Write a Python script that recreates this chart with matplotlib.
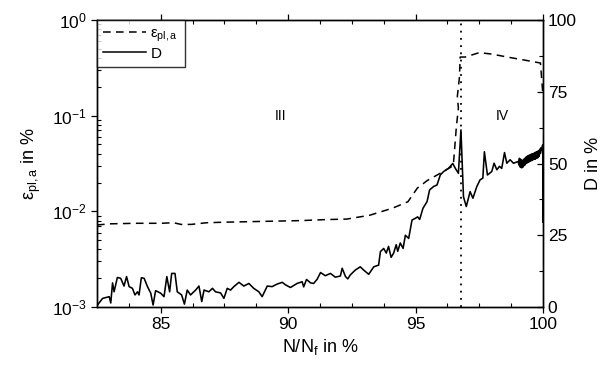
import matplotlib
matplotlib.use("Agg")
import matplotlib.pyplot as plt
from matplotlib.ticker import MultipleLocator, FixedLocator, LogLocator, NullFormatter
from matplotlib.lines import Line2D

plt.rcParams['font.family'] = ['Liberation Sans', 'DejaVu Sans']
plt.rcParams['mathtext.fontset'] = 'custom'
plt.rcParams['mathtext.rm'] = 'Liberation Sans'
plt.rcParams['mathtext.it'] = 'Liberation Sans:italic'

# ---- data ----
eps_x = [82.5, 83.0, 84.0, 85.0, 85.5, 85.8, 86.2, 86.8, 87.5, 88.5, 89.5, 90.5, 91.5,
         92.3, 93.2, 94.1, 94.7, 95.07, 95.46, 95.97, 96.48, 96.6, 96.68, 96.64, 96.72,
         96.75, 96.95, 97.5, 98.0, 98.6, 99.3, 99.9, 100.0]
eps_y = [7.2e-3, 7.4e-3, 7.5e-3, 7.5e-3, 7.6e-3, 7.3e-3, 7.3e-3, 7.6e-3, 7.7e-3, 7.8e-3,
         7.9e-3, 8.0e-3, 8.2e-3, 8.3e-3, 9.1e-3, 1.08e-2, 1.26e-2, 1.75e-2, 2.1e-2, 2.5e-2,
         3.0e-2, 7.6e-2, 0.12, 0.16, 0.25, 0.41, 0.41, 0.456, 0.44, 0.41, 0.38, 0.355, 0.16]

d_x = [82.52, 82.72, 82.98, 83.04, 83.11, 83.17, 83.30, 83.43, 83.56, 83.66, 83.76, 83.89,
       83.99, 84.09, 84.15, 84.24, 84.35, 84.48, 84.61, 84.70, 84.80, 85.00, 85.13, 85.24,
       85.35, 85.43, 85.56, 85.65, 85.82, 85.93, 86.04, 86.17, 86.37, 86.50, 86.61, 86.70,
       86.89, 87.03, 87.15, 87.35, 87.48, 87.61, 87.74, 87.87, 88.07, 88.26, 88.46, 88.65,
       88.85, 88.98, 89.18, 89.37, 89.57, 89.77, 89.90, 90.09, 90.35, 90.55, 90.61, 90.72,
       90.88, 91.00, 91.14, 91.27, 91.46, 91.66, 91.85, 92.05, 92.12, 92.25, 92.34, 92.44,
       92.64, 92.83, 92.96, 93.16, 93.36, 93.55, 93.62, 93.75, 93.85, 93.94, 94.04, 94.14,
       94.24, 94.30, 94.40, 94.51, 94.60, 94.73, 94.86, 94.99, 95.08, 95.16, 95.29, 95.45,
       95.55, 95.71, 95.84, 95.97, 96.10, 96.29, 96.46, 96.56, 96.68, 96.78, 96.88, 96.99,
       97.14, 97.25, 97.40, 97.53, 97.64, 97.70, 97.82, 97.99, 98.08, 98.19, 98.29, 98.38,
       98.49, 98.58, 98.71, 98.84, 99.03,
       99.050, 99.075, 99.100, 99.125, 99.150, 99.175, 99.200, 99.225, 99.250, 99.275,
       99.300, 99.325, 99.350, 99.375, 99.400, 99.425, 99.450, 99.475, 99.500, 99.525,
       99.550, 99.575, 99.600, 99.625, 99.650, 99.675, 99.700, 99.725, 99.750, 99.775,
       99.800, 99.825, 99.850, 99.875, 99.900, 99.925, 99.950,
       99.97, 99.99, 100.0, 100.0, 100.0, 100.0]
d_y = [0.7, 3.0, 3.6, 1.4, 8.4, 5.3, 10.3, 10.0, 7.3, 10.6, 7.1, 6.5,
       4.2, 5.3, 4.2, 10.2, 10.0, 7.1, 4.8, 0.7, 5.7, 4.8, 3.6, 10.6,
       5.3, 11.7, 11.7, 5.3, 4.2, 1.0, 5.9, 4.2, 5.9, 7.3, 1.9, 5.9,
       5.3, 6.5, 5.3, 4.9, 3.0, 6.5, 5.9, 7.1, 8.6, 7.3, 8.2, 6.5,
       5.3, 3.6, 7.3, 7.1, 8.0, 8.6, 7.7, 6.8, 8.2, 8.8, 7.0, 9.6,
       8.4, 8.2, 9.7, 12.0, 10.9, 11.7, 10.4, 10.8, 13.5, 10.6, 9.8, 11.2,
       12.9, 14.0, 12.9, 11.4, 14.0, 14.6, 19.3, 20.4, 18.8, 21.1, 17.3, 18.8,
       21.7, 19.4, 22.3, 20.4, 25.0, 23.9, 30.3, 30.9, 31.4, 30.5, 34.4, 36.7,
       40.8, 42.0, 42.5, 46.0, 47.2, 48.3, 50.0, 48.3, 46.6, 61.7, 38.4, 35.0,
       40.2, 37.9, 41.9, 44.3, 44.9, 54.1, 46.0, 47.2, 50.1, 47.8, 49.0, 48.3,
       53.8, 50.1, 51.3, 50.1, 50.7,
       49.5, 51.8, 48.8, 51.5, 48.5, 51.0, 48.6, 51.3, 49.2, 51.8,
       49.5, 52.2, 50.0, 52.5, 50.3, 52.8, 50.5, 53.0, 50.8, 53.2,
       51.0, 53.4, 51.2, 53.5, 51.5, 53.8, 51.5, 54.0, 51.8, 54.2,
       52.0, 54.5, 52.5, 55.0, 53.5, 55.5, 54.5,
       56.0, 56.5, 30.0, 56.0, 29.6, 50.0]

x_ticks = [85, 90, 95, 100]
d_ticks = [0, 25, 50, 75, 100]
eps_ticks = [1e-3, 1e-2, 1e-1, 1e0]
eps_tick_labels = [r'$10^{-3}$', r'$10^{-2}$', r'$10^{-1}$', r'$10^{0}$']
phase_x = 96.77

# ---- figure ----
fig = plt.figure(figsize=(6.09, 3.71), dpi=100)
ax = fig.add_axes([97/609, 1-307/371, (543-97)/609, (307-20)/371])
ax2 = ax.twinx()

ax.set_yscale('log')
ax.set_xlim(82.5, 100)
ax.set_ylim(1e-3, 1)
ax2.set_ylim(0, 100)

ax.plot(eps_x, eps_y, color='black', lw=1.1, linestyle=(0, (5, 3.5)))
ax2.plot(d_x, d_y, color='black', lw=1.15)
ax.axvline(phase_x, color='black', lw=1.3, linestyle=(0, (1, 3)))

ax.text(89.7, 0.1, 'III', fontsize=10, ha='center', va='center')
ax.text(98.4, 0.1, 'IV', fontsize=10, ha='center', va='center')

# ticks
ax.xaxis.set_major_locator(FixedLocator(x_ticks))
ax.xaxis.set_minor_locator(MultipleLocator(1.25))
ax.set_yticks(eps_ticks)
ax.set_yticklabels(eps_tick_labels)
ax.yaxis.set_minor_locator(LogLocator(base=10, subs=range(2, 10)))
ax.yaxis.set_minor_formatter(NullFormatter())
ax2.set_yticks(d_ticks)
ax2.yaxis.set_minor_locator(MultipleLocator(12.5))

ax.tick_params(axis='x', which='major', direction='out', length=4, width=0.9, labelsize=12.5, pad=3)
ax.tick_params(axis='x', which='minor', direction='in', length=3, width=0.8, top=True)
ax.tick_params(axis='y', which='major', direction='out', length=4, width=0.9, labelsize=12.5)
ax.tick_params(axis='y', which='minor', direction='in', length=3, width=0.8)
ax2.tick_params(axis='y', which='major', direction='in', length=4, width=0.9, labelsize=12.5)
ax2.tick_params(axis='y', which='minor', direction='in', length=3, width=0.8)
ax.tick_params(axis='x', which='major', top=True)
for a in (ax, ax2):
    for s in a.spines.values():
        s.set_linewidth(1.0)

ax.set_xlabel(r'N/N$_\mathrm{f}$ in %', fontsize=13, labelpad=4)
ax.set_ylabel(r'$\mathrm{\varepsilon}_\mathrm{pl,a}$ in %', fontsize=13, labelpad=6)
ax2.set_ylabel('D in %', fontsize=13, labelpad=6)

handles = [Line2D([], [], color='black', lw=1.1, linestyle=(0, (5, 3.5))),
           Line2D([], [], color='black', lw=1.1)]
leg = ax2.legend(handles, [r'$\mathrm{\varepsilon}_\mathrm{pl,a}$', 'D'], loc='upper left',
                 borderaxespad=0, fancybox=False, edgecolor='black', fontsize=11,
                 handlelength=2.8, handletextpad=0.3, labelspacing=0.2, borderpad=0.4)
leg.get_frame().set_linewidth(1.0)

fig.savefig('out.png', dpi=100)
